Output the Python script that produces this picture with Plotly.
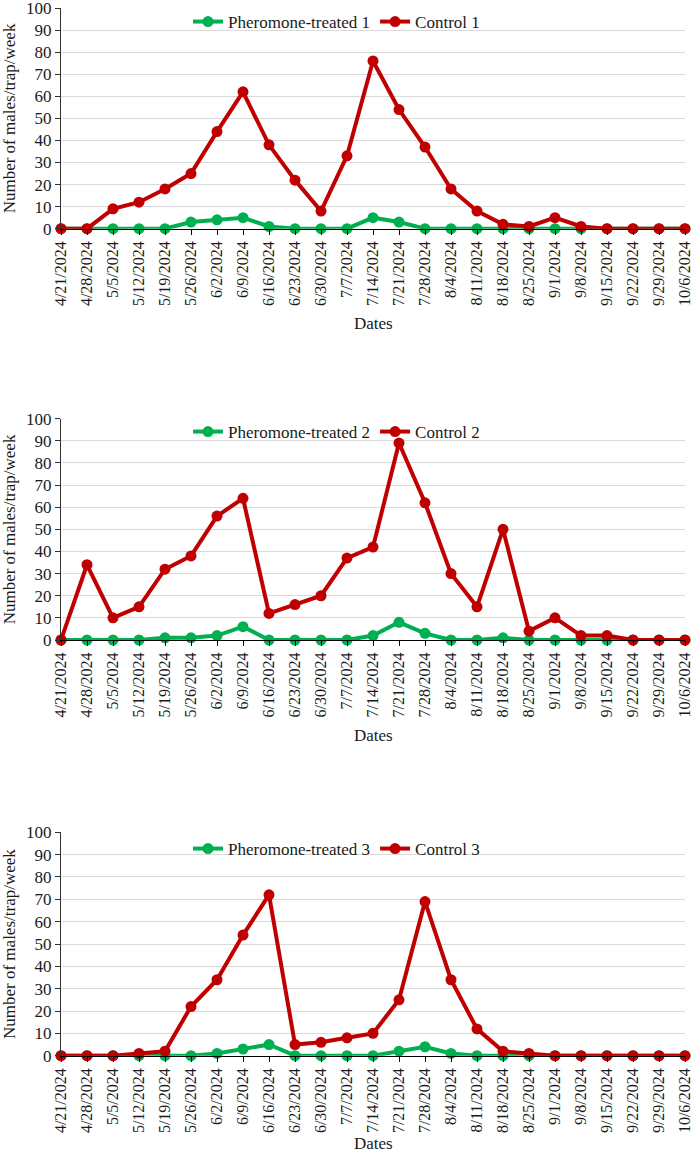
import plotly.graph_objects as go

dates = ["4/21/2024", "4/28/2024", "5/5/2024", "5/12/2024", "5/19/2024", "5/26/2024",
         "6/2/2024", "6/9/2024", "6/16/2024", "6/23/2024", "6/30/2024", "7/7/2024",
         "7/14/2024", "7/21/2024", "7/28/2024", "8/4/2024", "8/11/2024", "8/18/2024",
         "8/25/2024", "9/1/2024", "9/8/2024", "9/15/2024", "9/22/2024", "9/29/2024",
         "10/6/2024"]

treated_1 = [0, 0, 0, 0, 0, 3, 4, 5, 1, 0, 0, 0, 5, 3, 0, 0, 0, 0, 0, 0, 0, 0, 0, 0, 0]
control_1 = [0, 0, 9, 12, 18, 25, 44, 62, 38, 22, 8, 33, 76, 54, 37, 18, 8, 2, 1, 5, 1, 0, 0, 0, 0]

treated_2 = [0, 0, 0, 0, 1, 1, 2, 6, 0, 0, 0, 0, 2, 8, 3, 0, 0, 1, 0, 0, 0, 0, 0, 0, 0]
control_2 = [0, 34, 10, 15, 32, 38, 56, 64, 12, 16, 20, 37, 42, 89, 62, 30, 15, 50, 4, 10, 2, 2, 0, 0, 0]

treated_3 = [0, 0, 0, 0, 0, 0, 1, 3, 5, 0, 0, 0, 0, 2, 4, 1, 0, 0, 0, 0, 0, 0, 0, 0, 0]
control_3 = [0, 0, 0, 1, 2, 22, 34, 54, 72, 5, 6, 8, 10, 25, 69, 34, 12, 2, 1, 0, 0, 0, 0, 0, 0]

treated_names = ["Pheromone-treated 1", "Pheromone-treated 2", "Pheromone-treated 3"]
control_names = ["Control 1", "Control 2", "Control 3"]

GREEN = "#00B050"
RED = "#C00000"
FONT = "Liberation Serif"
TXT = "#1a1a1a"
W, H = 692, 1155

# pixel positions of each panel (y of value 100, y of value 0)
panels = [(8.0, 228.7), (418.7, 640.0), (832.3, 1055.7)]
dates_title_y = [323, 735, 1143]
legend_y = [22, 432, 849]
x_left, x_right = 61, 685

fig = go.Figure()
series = [(treated_1, control_1), (treated_2, control_2), (treated_3, control_3)]

for i, (tr, ct) in enumerate(series):
    n = "" if i == 0 else str(i + 1)
    leg = "legend" if i == 0 else f"legend{i + 1}"
    for vals, name, col in [(tr, treated_names[i], GREEN), (ct, control_names[i], RED)]:
        fig.add_trace(go.Scatter(
            x=dates, y=vals, name=name, mode="lines+markers",
            line=dict(color=col, width=4),
            marker=dict(color=col, size=11),
            xaxis="x" + n, yaxis="y" + n, legend=leg, cliponaxis=False,
        ))
    top_px, bot_px = panels[i]
    ydom = [1 - bot_px / H, 1 - top_px / H]
    fig.layout["xaxis" + n] = dict(
        domain=[x_left / W, x_right / W], anchor="y" + n,
        type="category", range=[0, len(dates) - 1],
        showline=True, linecolor="black", linewidth=1.2,
        ticks="outside", ticklen=5, tickcolor="black",
        tickangle=-90, showgrid=False, zeroline=False,
        tickfont=dict(family=FONT, size=16, color=TXT),
        automargin=False, ticklabeloverflow="allow",
    )
    fig.layout["yaxis" + n] = dict(
        domain=ydom, anchor="x" + n, range=[0, 100], dtick=10,
        showline=True, linecolor="#333", linewidth=1.2,
        ticks="outside", ticklen=5, tickcolor="#333",
        showgrid=True, gridcolor="#D9D9D9", gridwidth=1.3,
        zeroline=False,
        tickfont=dict(family=FONT, size=17, color=TXT),
        automargin=False, ticklabeloverflow="allow",
    )
    fig.layout[leg] = dict(
        orientation="h", x=188 / W, xanchor="left",
        y=1 - legend_y[i] / H, yanchor="middle",
        bgcolor="rgba(0,0,0,0)",
        font=dict(family=FONT, size=17, color=TXT),
        itemwidth=30,
    )
    fig.add_annotation(
        text="Dates", xref="paper", yref="paper",
        x=(x_left + x_right) / 2 / W, y=1 - dates_title_y[i] / H,
        xanchor="center", yanchor="middle", showarrow=False,
        font=dict(family=FONT, size=17, color=TXT),
    )
    fig.add_annotation(
        text="Number of males/trap/week", xref="paper", yref="paper",
        x=9 / W, y=1 - (top_px + bot_px) / 2 / H, textangle=-90,
        xanchor="center", yanchor="middle", showarrow=False,
        font=dict(family=FONT, size=17, color=TXT),
    )

fig.update_layout(
    width=W, height=H, margin=dict(l=0, r=0, t=0, b=0),
    paper_bgcolor="white", plot_bgcolor="white",
    showlegend=True,
)

fig.write_html("out.html")
